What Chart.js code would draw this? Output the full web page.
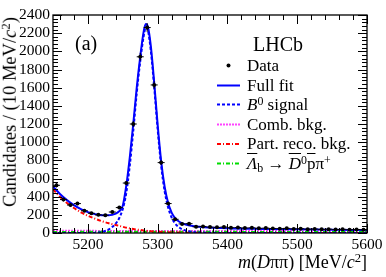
<!DOCTYPE html>
<html>
<head>
<meta charset="utf-8">
<script src="https://cdn.jsdelivr.net/npm/chart.js@4.4.1/dist/chart.umd.min.js"></script>
<style>
  html,body{margin:0;padding:0;background:#fff;}
  #wrap{position:relative;width:386px;height:277px;font-family:"Liberation Serif","DejaVu Serif",serif;color:#000;}
  canvas{position:absolute;left:0;top:0;}
  .t{position:absolute;white-space:nowrap;line-height:1;}
  .lg{font-size:17px;left:247px;}
  .ov{text-decoration:overline;}
  sup{font-size:70%;vertical-align:0.45em;line-height:0;}
  sub{font-size:70%;vertical-align:-0.25em;line-height:0;}
  i{font-style:italic;}
</style>
</head>
<body>
<div id="wrap">
  <canvas id="c" width="386" height="277"></canvas>
  <div class="t" style="left:75px;top:33px;font-size:20px;">(a)</div>
  <div class="t" style="left:253px;top:33.5px;font-size:20px;">LHCb</div>
  <div class="t lg" style="top:57px;">Data</div>
  <div class="t lg" style="top:76.7px;">Full fit</div>
  <div class="t lg" style="top:96px;"><i>B</i><sup>0</sup> signal</div>
  <div class="t lg" style="top:115.7px;">Comb. bkg.</div>
  <div class="t lg" style="top:135.4px;">Part. reco. bkg.</div>
  <div class="t lg" style="top:154.7px;"><span class="ov"><i>Λ</i></span><sub>b</sub> → <span class="ov"><i>D</i></span><sup>0</sup><span class="ov">p</span>π<sup>+</sup></div>
  <div class="t" style="right:19px;top:253px;font-size:18px;"><i>m</i>(<i>D</i>ππ) [MeV/<i>c</i><sup>2</sup>]</div>
  <div class="t" style="left:10px;top:112px;font-size:18.5px;transform:translate(-50%,-50%) rotate(-90deg);">Candidates / (10 MeV/<i>c</i><sup>2</sup>)</div>
</div>
<script>
// ---- data ----
const binCenters = [5155,5165,5175,5185,5195,5205,5215,5225,5235,5245,5255,5265,5275,5285,5295,5305,5315,5325,5335,5345,5355,5365,5375,5385,5395,5405,5415,5425,5435,5445,5455,5465,5475,5485,5495,5505,5515,5525,5535,5545,5555,5565,5575,5585,5595];
const dataCounts = [525,368,308,324,245,217,200,195,231,280,550,1200,1940,2262,1630,775,324,151,100,103,68,72,65,62,66,58,60,55,57,52,54,50,47,51,45,47,42,44,40,42,38,40,36,38,35];

const fitMass   = [5150,5160,5170,5180,5190,5200,5210,5220,5230,5240,5245,5250,5255,5260,5265,5270,5275,5280,5283,5286,5290,5295,5300,5305,5310,5315,5320,5325,5330,5335,5340,5350,5360,5380,5400,5450,5500,5550,5600];
const fitFull   = [512,430,362,306,262,230,208,196,196,214,240,300,520,830,1200,1600,1940,2220,2300,2270,2070,1660,1190,790,510,330,225,165,130,108,94,78,68,58,52,45,40,36,33];

const sigMass   = [5150,5200,5210,5220,5230,5240,5245,5250,5255,5260,5265,5270,5275,5280,5283,5286,5290,5295,5300,5305,5310,5315,5320,5325,5330,5335,5340,5350,5360,5380,5400,5600];
const sigValues = [0,0,2,12,40,105,165,265,440,740,1120,1540,1890,2170,2260,2230,2020,1610,1140,740,460,280,170,105,66,42,27,12,6,2,0,0];

const bkgMass   = [5150,5160,5170,5180,5190,5200,5210,5220,5230,5240,5250,5260,5270,5280,5290,5300,5320,5340,5360,5400,5600];
const partReco  = [480,400,330,275,228,190,158,130,107,88,68,50,38,28,20,14,8,4,2,0,0];

const combMass  = [5150,5250,5350,5450,5600];
const combBkg   = [24,23,22,21,20];
const lbMass    = [5150,5250,5350,5450,5600];
const lbBkg     = [12,13,13,12,11];

const xTicks = [5200,5300,5400,5500,5600];
const yTicks = [0,200,400,600,800,1000,1200,1400,1600,1800,2000,2200,2400];

const pts = (xs, ys) => xs.map((x, i) => ({x, y: ys[i]}));

const SERIF = '"Liberation Serif","DejaVu Serif",serif';

const framePlugin = {
  id: 'frame',
  afterDatasetsDraw(chart) {
    const {ctx, chartArea: a, scales: {x, y}} = chart;
    ctx.save();
    // error bars
    ctx.strokeStyle = '#000'; ctx.lineWidth = 1;
    binCenters.forEach((m, i) => {
      const v = dataCounts[i], e = Math.sqrt(v);
      const px = x.getPixelForValue(m), py = y.getPixelForValue(v);
      ctx.beginPath();
      ctx.moveTo(x.getPixelForValue(m - 5), py); ctx.lineTo(x.getPixelForValue(m + 5), py);
      ctx.moveTo(px, y.getPixelForValue(v - e)); ctx.lineTo(px, y.getPixelForValue(v + e));
      ctx.stroke();
    });
    // frame
    ctx.lineWidth = 1.3;
    ctx.strokeRect(a.left, a.top, a.right - a.left, a.bottom - a.top);
    ctx.lineWidth = 1;
    ctx.beginPath();
    for (let v = 0; v <= 2400; v += 40) {
      const py = Math.round(y.getPixelForValue(v)) + 0.5;
      const L = (v % 200 === 0) ? 9 : 5;
      ctx.moveTo(a.left, py); ctx.lineTo(a.left + L, py);
      ctx.moveTo(a.right, py); ctx.lineTo(a.right - L, py);
    }
    for (let m = 5160; m <= 5600; m += 20) {
      const px = Math.round(x.getPixelForValue(m)) + 0.5;
      const L = (m % 100 === 0) ? 9 : 5;
      ctx.moveTo(px, a.bottom); ctx.lineTo(px, a.bottom - L);
      ctx.moveTo(px, a.top); ctx.lineTo(px, a.top + L);
    }
    ctx.stroke();
    // legend symbols
    const sym = (yy, color, dash, w) => {
      ctx.save(); ctx.strokeStyle = color; ctx.lineWidth = w; ctx.setLineDash(dash);
      ctx.beginPath(); ctx.moveTo(217, yy); ctx.lineTo(240, yy); ctx.stroke(); ctx.restore();
    };
    ctx.fillStyle = '#000';
    ctx.beginPath(); ctx.arc(228.5, 65.5, 2, 0, Math.PI * 2); ctx.fill();
    sym(85.5, '#0000ff', [], 2);
    sym(104.5, '#0000ff', [3, 2], 2);
    sym(124.5, '#ff44ff', [2, 1], 2);
    sym(144, '#ff0000', [4, 2, 1, 2], 2);
    sym(163.5, '#00dd00', [4, 2, 1, 2], 2);
    ctx.restore();
  }
};

const line = (label, data, color, dash, width) => ({
  type: 'line', label, data, borderColor: color, borderDash: dash, borderWidth: width,
  pointRadius: 0, fill: false, cubicInterpolationMode: 'monotone'
});

new Chart(document.getElementById('c'), {
  type: 'scatter',
  data: {
    datasets: [
      {type: 'scatter', label: 'Data', data: pts(binCenters, dataCounts), pointRadius: 2, pointBackgroundColor: '#000', pointBorderWidth: 0, order: 0},
      Object.assign(line('Full fit', pts(fitMass, fitFull), '#0000ff', [], 2), {order: 1}),
      Object.assign(line('B0 signal', pts(sigMass, sigValues), '#0000ff', [3, 2], 2), {order: 2}),
      Object.assign(line('Comb. bkg.', pts(combMass, combBkg), '#ff44ff', [2, 1], 2), {order: 5}),
      Object.assign(line('Part. reco. bkg.', pts(bkgMass, partReco), '#ff0000', [4, 2, 1, 2], 2), {order: 3}),
      Object.assign(line('Lb bkg', pts(lbMass, lbBkg), '#00dd00', [4, 2, 1, 2], 2), {order: 4})
    ]
  },
  options: {
    responsive: false, animation: false, events: [],
    layout: {padding: {left: 0, right: 19, top: 15, bottom: 0}},
    plugins: {legend: {display: false}, tooltip: {enabled: false}},
    scales: {
      x: {
        type: 'linear', min: 5150, max: 5600,
        grid: {display: false, drawTicks: false}, border: {display: false},
        afterBuildTicks: s => { s.ticks = xTicks.map(v => ({value: v})); },
        afterFit: s => { s.height = 44; },
        ticks: {color: '#000', font: {family: SERIF, size: 15.5}, padding: 3, maxRotation: 0, autoSkip: false, callback: v => String(v)}
      },
      y: {
        type: 'linear', min: 0, max: 2400,
        grid: {display: false, drawTicks: false}, border: {display: false},
        afterBuildTicks: s => { s.ticks = yTicks.map(v => ({value: v})); },
        afterFit: s => { s.width = 53; },
        ticks: {color: '#000', font: {family: SERIF, size: 15.5}, padding: 3, autoSkip: false, callback: v => String(v)}
      }
    }
  },
  plugins: [framePlugin]
});
</script>
</body>
</html>
